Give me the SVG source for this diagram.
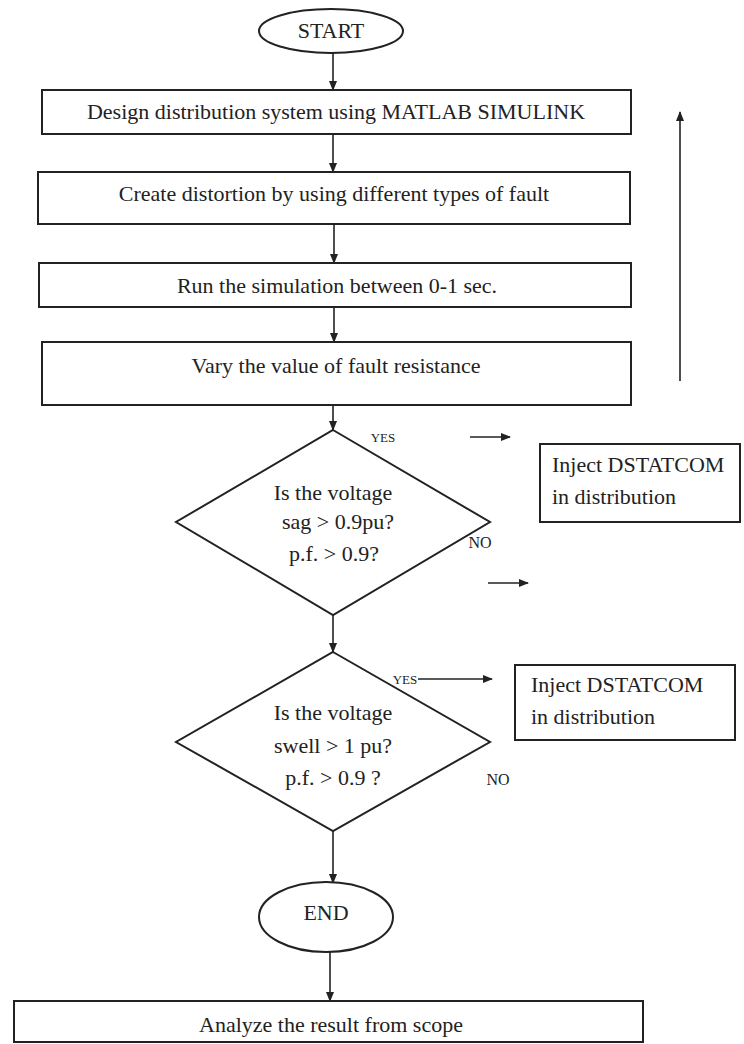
<svg xmlns="http://www.w3.org/2000/svg" width="744" height="1044" viewBox="0 0 744 1044">
<defs>
<marker id="ah" markerWidth="10" markerHeight="8" refX="9" refY="4" orient="auto" markerUnits="userSpaceOnUse"><path d="M0,0 L10,4 L0,8 z" fill="#222"/></marker>
</defs>
<style>
.shape{fill:#fff;stroke:#222;stroke-width:2}
.t{font-family:"Liberation Serif","Times New Roman",serif;font-size:22px;fill:#222}
.m{text-anchor:middle}
.s{font-size:13px}
.n{font-size:16px}
.c{fill:none;stroke:#222;stroke-width:1.6}
</style>
<rect x="0" y="0" width="744" height="1044" fill="#fff"/>
<g id="connectors">
<line class="c" x1="333" y1="53" x2="333" y2="90" marker-end="url(#ah)"/>
<line class="c" x1="333" y1="134" x2="333" y2="172" marker-end="url(#ah)"/>
<line class="c" x1="334" y1="224" x2="334" y2="263" marker-end="url(#ah)"/>
<line class="c" x1="334" y1="307" x2="334" y2="342" marker-end="url(#ah)"/>
<line class="c" x1="333" y1="405" x2="333" y2="430" marker-end="url(#ah)"/>
<line class="c" x1="333" y1="615" x2="333" y2="652" marker-end="url(#ah)"/>
<line class="c" x1="333" y1="831" x2="333" y2="883" marker-end="url(#ah)"/>
<line class="c" x1="330" y1="952" x2="330" y2="1001" marker-end="url(#ah)"/>
<line class="c" x1="680" y1="381" x2="680" y2="112" marker-end="url(#ah)"/>
<line class="c" x1="470" y1="437" x2="510" y2="437" marker-end="url(#ah)"/>
<line class="c" x1="488" y1="583" x2="528" y2="583" marker-end="url(#ah)"/>
<line class="c" x1="418" y1="679" x2="492" y2="679" marker-end="url(#ah)"/>
</g>
<g id="start">
<ellipse class="shape" cx="331" cy="31" rx="72" ry="22"/>
<text class="t m" x="331" y="38">START</text>
</g>
<g id="design">
<rect class="shape" x="42" y="90" width="589" height="44"/>
<text class="t m" x="336" y="119">Design distribution system using MATLAB SIMULINK</text>
</g>
<g id="distortion">
<rect class="shape" x="38" y="172" width="592" height="52"/>
<text class="t m" x="334" y="201">Create distortion by using different types of fault</text>
</g>
<g id="simulation">
<rect class="shape" x="39" y="263" width="592" height="44"/>
<text class="t m" x="337" y="293">Run the simulation between 0-1 sec.</text>
</g>
<g id="vary">
<rect class="shape" x="42" y="342" width="589" height="63"/>
<text class="t m" x="336" y="373">Vary the value of fault resistance</text>
</g>
<g id="decision-sag">
<polygon class="shape" points="333,430 490,522 333,615 176,522"/>
<text class="t m" x="333" y="500">Is the voltage</text>
<text class="t m" x="338" y="529">sag &gt; 0.9pu?</text>
<text class="t m" x="334" y="561">p.f. &gt; 0.9?</text>
<text class="t m s" x="383" y="442">YES</text>
<text class="t m n" x="480" y="548">NO</text>
</g>
<g id="inject-1">
<rect class="shape" x="540" y="444" width="200" height="78"/>
<text class="t" x="552" y="472">Inject DSTATCOM</text>
<text class="t" x="552" y="504">in distribution</text>
</g>
<g id="decision-swell">
<polygon class="shape" points="333,652 490,742 333,831 176,742"/>
<text class="t m" x="333" y="720">Is the voltage</text>
<text class="t m" x="333" y="753">swell &gt; 1 pu?</text>
<text class="t m" x="333" y="785">p.f. &gt; 0.9 ?</text>
<text class="t m s" x="405" y="684">YES</text>
<text class="t m n" x="498" y="785">NO</text>
</g>
<g id="inject-2">
<rect class="shape" x="515" y="665" width="220" height="75"/>
<text class="t" x="531" y="692">Inject DSTATCOM</text>
<text class="t" x="531" y="724">in distribution</text>
</g>
<g id="end">
<ellipse class="shape" cx="326" cy="917" rx="67" ry="35"/>
<text class="t m" x="326" y="920">END</text>
</g>
<g id="analyze">
<rect class="shape" x="14" y="1001" width="629" height="41"/>
<text class="t m" x="331" y="1032">Analyze the result from scope</text>
</g>
</svg>
